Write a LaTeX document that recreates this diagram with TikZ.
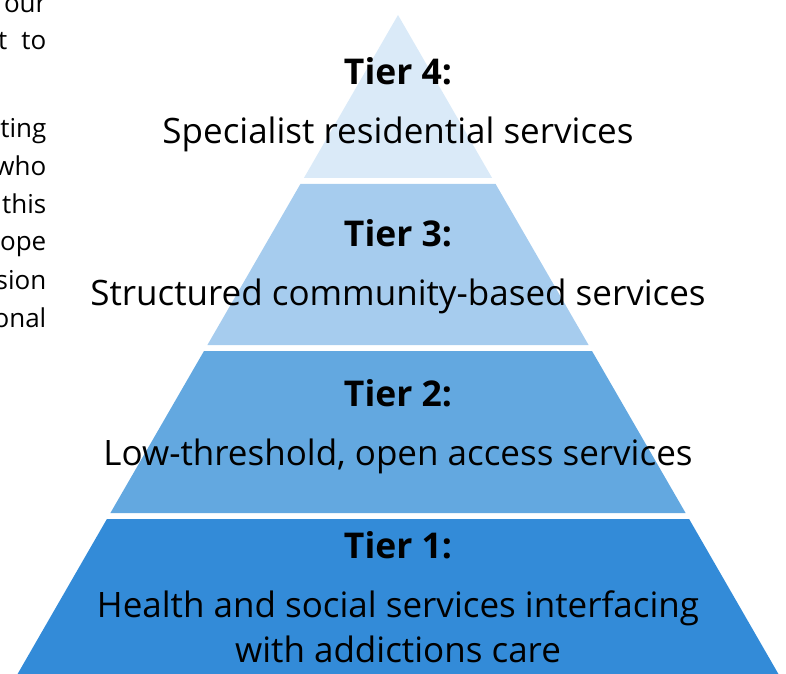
\documentclass[tikz,border=0pt]{standalone}
\usepackage{fontspec}
\setmainfont{Open Sans}
\definecolor{tierA}{RGB}{51,139,216}
\definecolor{tierB}{RGB}{99,168,224}
\definecolor{tierC}{RGB}{166,204,238}
\definecolor{tierD}{RGB}{218,234,248}
\tikzset{
  tierlabel/.style={anchor=base, inner sep=0pt, font=\fontsize{35.5}{40}\selectfont\bfseries},
  tiertext/.style={anchor=base, inner sep=0pt, font=\fontsize{35}{45}\selectfont, align=center},
  sidetext/.style={anchor=base east, inner sep=0pt, font=\fontsize{26}{30}\selectfont}
}
\begin{document}
\begin{tikzpicture}[x=1pt,y=1pt]
\useasboundingbox (0,0) rectangle (786,673);
% pyramid tiers
\fill[tierD] (398,658) -- (492.1,495) -- (303.9,495) -- cycle;
\fill[tierC] (300.4,489) -- (495.6,489) -- (588.6,328) -- (207.4,328) -- cycle;
\fill[tierB] (204,322) -- (592,322) -- (685.6,160) -- (110.4,160) -- cycle;
\fill[tierA] (106.9,154) -- (689.1,154) -- (779,-2) -- (17,-2) -- cycle;
% tier texts
\node[tierlabel] (l4) at (398,588) {Tier 4:};
\node[tiertext] (t4) at (398,529) {Specialist residential services};
\node[tierlabel] (l3) at (398,427) {Tier 3:};
\node[tiertext] (t3) at (398,368) {Structured community-based services};
\node[tierlabel] (l2) at (398,267) {Tier 2:};
\node[tiertext] (t2) at (398,208) {Low-threshold, open access services};
\node[tierlabel] (l1) at (398,115) {Tier 1:};
\node[tiertext] (t1a) at (398,56) {Health and social services interfacing};
\node[tiertext] (t1b) at (398,11) {with addictions care};
% cropped side text
\node[sidetext] (s1) at (46.5,660.5) {our};
\node[sidetext] (s2) at (46.5,623) {t\hspace{14pt}to};
\node[sidetext] (s3) at (46.5,535) {ting};
\node[sidetext] (s4) at (46.5,497.5) {who};
\node[sidetext] (s5) at (46.5,459.5) {this};
\node[sidetext] (s6) at (46.5,422) {ope};
\node[sidetext] (s7) at (46.5,384) {sion};
\node[sidetext] (s8) at (46.5,346) {onal};
\end{tikzpicture}
\end{document}
